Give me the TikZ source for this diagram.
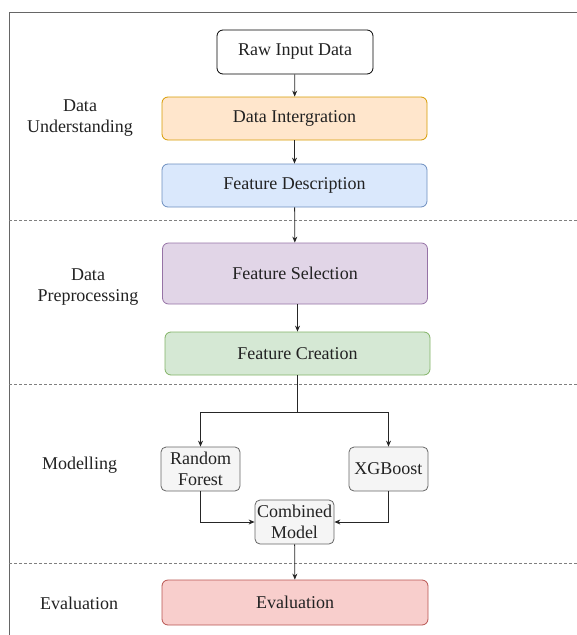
\documentclass[tikz,border=0pt]{standalone}
\usepackage{fontspec}
\setmainfont{Liberation Serif}
\usepackage{xcolor}
\usetikzlibrary{arrows.meta, positioning}

\definecolor{orangefill}{HTML}{FFE6CC}
\definecolor{orangeline}{HTML}{D79B00}
\definecolor{bluefill}{HTML}{DAE8FC}
\definecolor{blueline}{HTML}{6C8EBF}
\definecolor{purplefill}{HTML}{E1D5E7}
\definecolor{purpleline}{HTML}{9673A6}
\definecolor{greenfill}{HTML}{D5E8D4}
\definecolor{greenline}{HTML}{82B366}
\definecolor{greyfill}{HTML}{F5F5F5}
\definecolor{greyline}{HTML}{666666}
\definecolor{redfill}{HTML}{F8CECC}
\definecolor{redline}{HTML}{B85450}
\definecolor{textgrey}{HTML}{222222}

\tikzset{
  stage/.style={draw, rounded corners=6pt, line width=0.8pt, minimum width=265pt,
    minimum height=43pt, align=center, text=textgrey, inner sep=1pt,
    font=\fontsize{18}{21}\selectfont},
  model/.style={stage, rounded corners=5pt, minimum width=79pt, minimum height=44pt},
  phase/.style={align=center, text=textgrey, font=\fontsize{18}{21}\selectfont},
  flow/.style={-{Stealth[length=6pt,width=5pt]}, line width=0.8pt, draw=black!85},
  divider/.style={draw=gray, line width=0.7pt, dash pattern=on 3pt off 2pt}
}

\begin{document}
\begin{tikzpicture}[x=1pt, y=-1pt]
    \useasboundingbox (0,0) rectangle (577,635);

    % Frame
    \draw[draw=greyline, line width=0.9pt] (577,12) -- (9,12) -- (9,635);

    % Phase dividers
    \draw[divider] (9,220) -- (577,220);
    \draw[divider] (9,384) -- (577,384);
    \draw[divider] (9,563) -- (577,563);

    % Phase labels
    \node[phase] (lblund) at (80,118) {Data\\Understanding};
    \node[phase] (lblpre) at (88,287.5) {Data\\Preprocessing};
    \node[phase] (lblmod) at (79.5,465) {Modelling};
    \node[phase] (lbleval) at (79,603) {Evaluation};

    % Data understanding
    \node[stage, minimum width=156pt, minimum height=44pt] (raw) at (295,52) {Raw Input Data};
    \node[stage, fill=orangefill, draw=orangeline] (integ) at (294.5,118.5) {Data Intergration};
    \node[stage, fill=bluefill, draw=blueline] (desc) at (294.5,185.5) {Feature Description};

    % Data preprocessing
    \node[stage, fill=purplefill, draw=purpleline, minimum height=61pt] (sel) at (295,273.5) {Feature Selection};
    \node[stage, fill=greenfill, draw=greenline] (crea) at (297.5,353.5) {Feature Creation};

    % Modelling
    \node[model, fill=greyfill, draw=greyline] (rf) at (200.5,469) {Random\\Forest};
    \node[model, fill=greyfill, draw=greyline] (xgb) at (388.5,469) {XGBoost};
    \node[model, fill=greyfill, draw=greyline] (comb) at (294.5,522) {Combined\\Model};
    \coordinate (split) at (297.5,412);

    % Evaluation
    \node[stage, fill=redfill, draw=redline, minimum width=266pt, minimum height=45pt] (evalbox) at (295,602.5) {Evaluation};

    % Connectors
    \draw[flow] (raw) -- (integ);
    \draw[flow] (integ) -- (desc);
    \draw[flow] (desc) -- (sel);
    \draw[flow] (sel.south -| crea) -- (crea);
    \draw[line width=0.8pt, draw=black!85] (crea) -- (split);
    \draw[flow] (split) -| (rf);
    \draw[flow] (split) -| (xgb);
    \draw[flow] (rf) |- (comb);
    \draw[flow] (xgb) |- (comb);
    \draw[flow] (comb) -- (evalbox);
\end{tikzpicture}
\end{document}
